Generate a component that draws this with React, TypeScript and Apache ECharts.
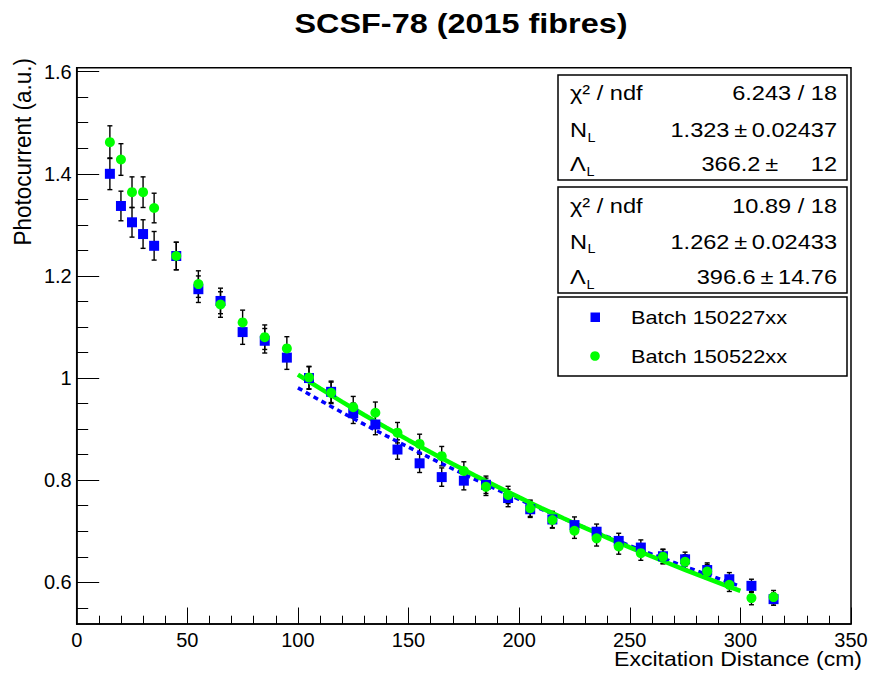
import React, { useEffect, useRef } from "react";
import * as echarts from "echarts";

// ---------- data ----------
const distances = [15, 20, 25, 30, 35, 45, 55, 65, 75, 85, 95, 105, 115, 125, 135, 145, 155, 165, 175, 185, 195, 205, 215, 225, 235, 245, 255, 265, 275, 285, 295, 305, 315];

const batchAName = "Batch 150227xx";
const batchAValues = [1.400, 1.337, 1.305, 1.282, 1.259, 1.239, 1.174, 1.151, 1.090, 1.073, 1.040, 1.000, 0.973, 0.931, 0.909, 0.860, 0.833, 0.806, 0.799, 0.791, 0.765, 0.743, 0.723, 0.712, 0.699, 0.681, 0.668, 0.651, 0.645, 0.624, 0.606, 0.593, 0.567];
const batchAErrors = [0.031, 0.029, 0.029, 0.028, 0.028, 0.027, 0.026, 0.025, 0.024, 0.024, 0.023, 0.022, 0.021, 0.020, 0.020, 0.019, 0.018, 0.018, 0.018, 0.017, 0.017, 0.016, 0.016, 0.016, 0.015, 0.015, 0.015, 0.014, 0.014, 0.014, 0.013, 0.013, 0.012];

const batchBName = "Batch 150522xx";
const batchBValues = [1.462, 1.428, 1.364, 1.364, 1.333, 1.239, 1.184, 1.144, 1.109, 1.080, 1.058, 1.001, 0.971, 0.943, 0.932, 0.893, 0.871, 0.847, 0.818, 0.787, 0.771, 0.745, 0.722, 0.701, 0.686, 0.670, 0.657, 0.650, 0.640, 0.621, 0.595, 0.569, 0.571];
const batchBErrors = [0.032, 0.031, 0.030, 0.030, 0.029, 0.027, 0.026, 0.025, 0.024, 0.024, 0.023, 0.022, 0.021, 0.021, 0.021, 0.020, 0.019, 0.019, 0.018, 0.017, 0.017, 0.016, 0.016, 0.015, 0.015, 0.015, 0.014, 0.014, 0.014, 0.014, 0.013, 0.013, 0.013];

// fit results shown in the stat boxes (exponential N_L * exp(-x / Lambda_L))
const fitBStats = { chi2: "6.243 / 18", norm: "1.323\u2009±\u20090.02437", lambda: "366.2\u2009±     12" };
const fitBNorm = 1.323;
const fitBLambda = 366.2;
const fitAStats = { chi2: "10.89 / 18", norm: "1.262\u2009±\u20090.02433", lambda: "396.6\u2009±\u200914.76" };
const fitANorm = 1.262;
const fitALambda = 396.6;
const fitSampleX = [100, 105, 110, 115, 120, 125, 130, 135, 140, 145, 150, 155, 160, 165, 170, 175, 180, 185, 190, 195, 200, 205, 210, 215, 220, 225, 230, 235, 240, 245, 250, 255, 260, 265, 270, 275, 280, 285, 290, 295, 300];

// axes
const xMin = 0;
const xMax = 350;
const xInterval = 50;
const yMin = 0.5183;
const yMax = 1.6078;
const yTicks = [0.6, 0.8, 1, 1.2, 1.4, 1.6];
const yMinorTicks = [0.55, 0.65, 0.7, 0.75, 0.85, 0.9, 0.95, 1.05, 1.1, 1.15, 1.25, 1.3, 1.35, 1.45, 1.5, 1.55];

const titleText = "SCSF-78 (2015 fibres)";
const xTitle = "Excitation Distance (cm)";
const yTitle = "Photocurrent (a.u.)";

// ---------- styling ----------
const FONT = "'Liberation Sans', Arial, Helvetica, sans-serif";
const BLUE = "#0000ff";
const GREEN = "#00ff00";

const errorBarRender = (params: any, api: any) => {
  const x = api.value(0);
  const y = api.value(1);
  const e = api.value(2);
  const hi = api.coord([x, y + e]);
  const lo = api.coord([x, y - e]);
  const cap = 2.5;
  const style = { stroke: "#000", lineWidth: 1.4 };
  return {
    type: "group",
    children: [
      { type: "line", shape: { x1: hi[0], y1: hi[1], x2: lo[0], y2: lo[1] }, style },
      { type: "line", shape: { x1: hi[0] - cap, y1: hi[1], x2: hi[0] + cap, y2: hi[1] }, style },
      { type: "line", shape: { x1: lo[0] - cap, y1: lo[1], x2: lo[0] + cap, y2: lo[1] }, style },
    ],
  };
};

function txt(text: string, x: number, y: number, size: number, align: string, sx = 1.15, extra: any = {}) {
  return {
    type: "text",
    x,
    y,
    scaleX: sx,
    z: 20,
    style: {
      text,
      fill: "#000",
      fontSize: size,
      fontFamily: FONT,
      align,
      verticalAlign: "middle",
      ...extra,
    },
  };
}

function statBox(top: number, h: number, rows: number[], stats: { chi2: string; norm: string; lambda: string }) {
  const left = 558;
  const w = 289;
  const lx = 570;
  const rx = 837;
  return [
    {
      type: "rect",
      z: 15,
      shape: { x: left, y: top, width: w, height: h },
      style: { fill: "#fff", stroke: "#000", lineWidth: 1.5 },
    },
    txt("χ² / ndf", lx, rows[0], 20.5, "left"),
    txt(stats.chi2, rx, rows[0], 20.5, "right"),
    txt("N", lx, rows[1], 20.5, "left"),
    txt("L", 587.5, rows[1] + 7.5, 12.5, "left"),
    txt(stats.norm, rx, rows[1], 20.5, "right"),
    txt("Λ", lx, rows[2], 20.5, "left"),
    txt("L", 586.5, rows[2] + 8, 12.5, "left"),
    txt(stats.lambda, rx, rows[2], 20.5, "right"),
  ];
}

export default function App() {
  const ref = useRef<HTMLDivElement>(null);

  useEffect(() => {
    if (!ref.current) return;
    const chart = echarts.init(ref.current, undefined, { renderer: "svg" });

    const dataA = distances.map((d, i) => [d, batchAValues[i], batchAErrors[i]]);
    const dataB = distances.map((d, i) => [d, batchBValues[i], batchBErrors[i]]);
    const fitA = fitSampleX.map((x) => [x, fitANorm * Math.exp(-x / fitALambda)]);
    const fitB = fitSampleX.map((x) => [x, fitBNorm * Math.exp(-x / fitBLambda)]);

    const graphic: any[] = [
      txt(titleText, 461, 23.5, 27, "center", 1.2, { fontWeight: "bold" }),
      txt(xTitle, 862, 659, 20, "right", 1.15),
      {
        type: "text",
        x: 22.5,
        y: 58,
        rotation: Math.PI / 2,
        scaleY: 1.1,
        style: {
          text: yTitle,
          fill: "#000",
          fontSize: 22.5,
          fontFamily: FONT,
          align: "right",
          verticalAlign: "middle",
        },
      },
      ...statBox(75, 105, [93.3, 130, 164], fitBStats),
      ...statBox(187, 106, [206, 241.7, 276.7], fitAStats),
      {
        type: "rect",
        z: 15,
        shape: { x: 558, y: 297, width: 289, height: 79 },
        style: { fill: "#fff", stroke: "#000", lineWidth: 1.5 },
      },
      {
        type: "rect",
        z: 20,
        shape: { x: 590.5, y: 312.5, width: 9.5, height: 9.5 },
        style: { fill: BLUE },
      },
      {
        type: "circle",
        z: 20,
        shape: { cx: 595, cy: 356, r: 4.8 },
        style: { fill: GREEN },
      },
      txt(batchAName, 631, 317.5, 18.6, "left", 1.17),
      txt(batchBName, 631, 356.5, 18.6, "left", 1.17),
    ];

    chart.setOption({
      animation: false,
      backgroundColor: "#fff",
      textStyle: { fontFamily: FONT },
      grid: {
        left: 76.7,
        right: 22,
        top: 67.7,
        bottom: 49,
        show: true,
        borderColor: "#000",
        borderWidth: 1.5,
        backgroundColor: "transparent",
      },
      xAxis: {
        type: "value",
        min: xMin,
        max: xMax,
        interval: xInterval,
        axisLine: { show: true, onZero: false, lineStyle: { color: "#000", width: 1.5 } },
        axisTick: { show: true, inside: true, length: 16.5, lineStyle: { color: "#000", width: 1 } },
        minorTick: { show: true, splitNumber: 5, length: 8.3, lineStyle: { color: "#000", width: 1 } },
        axisLabel: { color: "#000", fontSize: 20, fontFamily: FONT, margin: 6 },
        splitLine: { show: false },
      },
      yAxis: [
        {
          type: "value",
          min: yMin,
          max: yMax,
          position: "left",
          axisLine: { show: true, onZero: false, lineStyle: { color: "#000", width: 1.5 } },
          axisTick: {
            show: true,
            inside: true,
            length: 22.5,
            customValues: yTicks,
            lineStyle: { color: "#000", width: 1 },
          },
          axisLabel: {
            color: "#000",
            fontSize: 20,
            fontFamily: FONT,
            margin: 5,
            customValues: yTicks,
            formatter: (v: number) => String(Number(v.toFixed(2))),
          },
          splitLine: { show: false },
        },
        {
          type: "value",
          min: yMin,
          max: yMax,
          position: "left",
          axisLine: { show: false },
          axisTick: {
            show: true,
            inside: true,
            length: 11.5,
            customValues: yMinorTicks,
            lineStyle: { color: "#000", width: 1 },
          },
          axisLabel: { show: false },
          splitLine: { show: false },
        },
      ],
      series: [
        {
          name: batchAName + " errors",
          type: "custom",
          renderItem: errorBarRender,
          data: dataA,
          encode: { x: 0, y: 1 },
          z: 2,
        },
        {
          name: batchAName,
          type: "scatter",
          data: dataA,
          encode: { x: 0, y: 1 },
          symbol: "rect",
          symbolSize: 10,
          itemStyle: { color: BLUE, opacity: 1 },
          z: 2,
        },
        {
          name: "Fit " + batchAName,
          type: "line",
          data: fitA,
          showSymbol: false,
          symbol: "none",
          lineStyle: { color: BLUE, width: 3.5, type: [5, 4] },
          z: 2,
        },
        {
          name: "Fit " + batchBName,
          type: "line",
          data: fitB,
          showSymbol: false,
          symbol: "none",
          lineStyle: { color: GREEN, width: 4.5, type: "solid" },
          z: 2,
        },
        {
          name: batchBName + " errors",
          type: "custom",
          renderItem: errorBarRender,
          data: dataB,
          encode: { x: 0, y: 1 },
          z: 2,
        },
        {
          name: batchBName,
          type: "scatter",
          data: dataB,
          encode: { x: 0, y: 1 },
          symbol: "circle",
          symbolSize: 10,
          itemStyle: { color: GREEN, opacity: 1 },
          z: 2,
        },
      ],
      graphic,
    });

    return () => {
      chart.dispose();
    };
  }, []);

  return (
    <div
      ref={ref}
      style={{ position: "absolute", left: 0, top: 0, width: 873, height: 673, background: "#fff" }}
    />
  );
}
